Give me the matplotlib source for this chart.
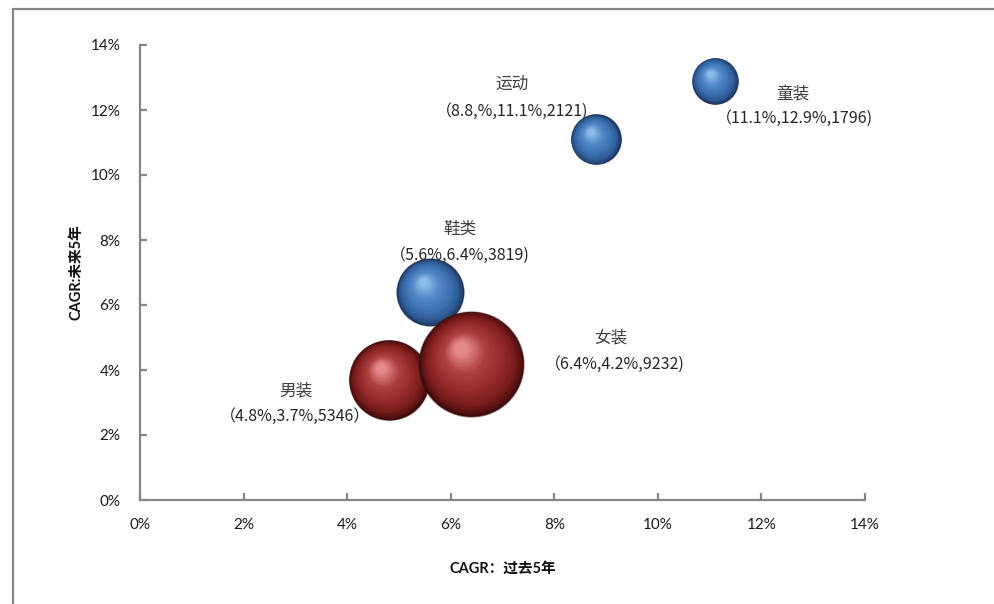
import numpy as np
import matplotlib
matplotlib.use("Agg")
import matplotlib.pyplot as plt
from matplotlib.transforms import ScaledTranslation
from matplotlib.patches import Rectangle
from matplotlib.colors import LinearSegmentedColormap
from matplotlib.ticker import FuncFormatter

plt.rcParams['font.family'] = ['Lato', 'Noto Sans CJK SC', 'DejaVu Sans']
CJK_FIRST = ['Noto Sans CJK SC', 'Lato', 'DejaVu Sans']

# Segment data: past 5-year CAGR (%), next 5-year CAGR (%), market size
categories = ["鞋类", "运动", "童装", "男装", "女装"]
cagr_past = [5.6, 8.8, 11.1, 4.8, 6.4]
cagr_future = [6.4, 11.1, 12.9, 3.7, 4.2]
market_size = [3819, 2121, 1796, 5346, 9232]
series = ["blue", "blue", "blue", "red", "red"]
value_labels = ["（5.6%,6.4%,3819)", "（8.8,%,11.1%,2121)", "（11.1%,12.9%,1796)",
                "（4.8%,3.7%,5346）", "（6.4%,4.2%,9232)"]
x_ticks = [0, 2, 4, 6, 8, 10, 12, 14]
y_ticks = [0, 2, 4, 6, 8, 10, 12, 14]

# label offsets (pixels) of name / value text relative to each bubble
name_offsets = [(30, 63), (-84, 55), (78, -13), (-93, -11), (139, 26)]
value_offsets = [(30, 37), (-84, 28), (80, -38), (-93, -37), (143, -1)]

sphere_maps = {
    "blue": LinearSegmentedColormap.from_list(
        "bsph", ["#1d3257", "#2f5c96", "#3e74b4", "#5488c8", "#8bbbe8"]),
    "red": LinearSegmentedColormap.from_list(
        "rsph", ["#3e0a0a", "#761b1b", "#962b2b", "#ad3f3f", "#e58a8a"]),
}

DPI = 100
fig = plt.figure(figsize=(9.95, 6.04), dpi=DPI)
ax = fig.add_axes([140 / 995, 1 - 500 / 604, 725 / 995, 455 / 604])

# outer chart frame
fig.patches.append(Rectangle((13 / 995, -0.1), 1.2, 1.1 - 8.5 / 604,
                             transform=fig.transFigure, fill=False,
                             edgecolor="#868686", linewidth=1.6, zorder=0))

size_scale = 0.616  # points^2 per unit of market size
n_layers = 45
for i, cat in enumerate(categories):
    x, y, sz = cagr_past[i], cagr_future[i], market_size[i]
    s_full = size_scale * sz
    r_pt = np.sqrt(s_full) / 2.0
    cmap = sphere_maps[series[i]]
    ax.scatter([x], [y], s=s_full * 1.03, color=cmap(0.0), alpha=0.5,
               linewidths=0, zorder=2 + i)
    for k in range(n_layers):
        t = k / (n_layers - 1)
        frac = 1.0 - 0.88 * t
        dx = -0.2 * r_pt * t
        dy = 0.3 * r_pt * t
        tr = ax.transData + ScaledTranslation(dx / 72, dy / 72, fig.dpi_scale_trans)
        cval = t ** 0.75
        ax.scatter([x], [y], s=s_full * frac ** 2, color=cmap(cval),
                   linewidths=0, transform=tr, zorder=2 + i)

for i, cat in enumerate(categories):
    x, y = cagr_past[i], cagr_future[i]
    ax.annotate(cat, xy=(x, y), xytext=name_offsets[i], textcoords="offset pixels",
                ha="center", va="center", fontsize=12, color="#404040",
                family=CJK_FIRST, zorder=20)
    ax.annotate(value_labels[i], xy=(x, y), xytext=value_offsets[i],
                textcoords="offset pixels", ha="center", va="center",
                fontsize=11.5, color="#262626", family=CJK_FIRST, zorder=20)

ax.set_xlim(x_ticks[0], x_ticks[-1])
ax.set_ylim(y_ticks[0], y_ticks[-1])
ax.set_xticks(x_ticks)
ax.set_yticks(y_ticks)
pct = FuncFormatter(lambda v, p: f"{v:.0f}%")
ax.xaxis.set_major_formatter(pct)
ax.yaxis.set_major_formatter(pct)

for side in ("top", "right"):
    ax.spines[side].set_visible(False)
for side in ("left", "bottom"):
    ax.spines[side].set_color("#868686")
    ax.spines[side].set_linewidth(1.6)
ax.tick_params(axis="both", direction="in", length=5, width=1.6, color="#868686",
               labelsize=11, labelcolor="#1a1a1a")
ax.tick_params(axis="x", pad=13)
ax.tick_params(axis="y", pad=14)

ax.set_xlabel("CAGR：过去5年", fontsize=10.5, fontweight="bold", labelpad=21,
              color="#111111")
ax.set_ylabel("CAGR:未来5年", fontsize=10.5, fontweight="bold", labelpad=5,
              color="#111111")

fig.savefig("out.png", dpi=DPI)
